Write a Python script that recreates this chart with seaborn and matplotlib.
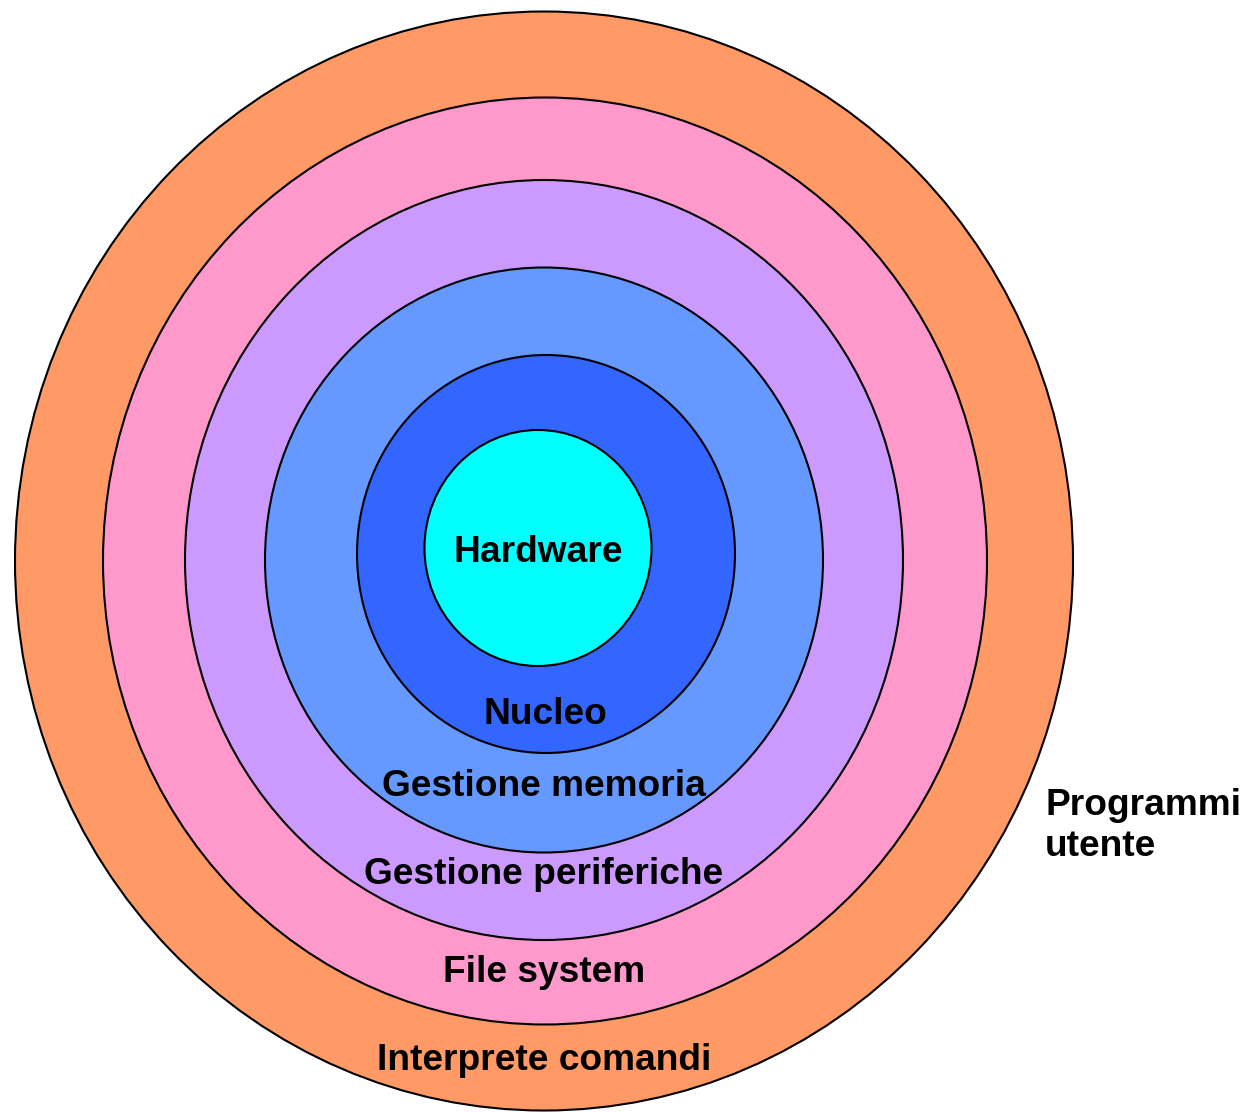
import matplotlib
matplotlib.use("Agg")
import matplotlib.pyplot as plt
from matplotlib.patches import Ellipse
import seaborn as sns

# livelli del sistema operativo, dall'esterno verso l'interno
layers = ['Interprete comandi', 'File system', 'Gestione periferiche',
          'Gestione memoria', 'Nucleo', 'Hardware']
colors = ['#FF9966', '#FF99CC', '#CC99FF', '#6699FF', '#3366FF', '#00FFFF']
center_x = [544, 545, 544, 544, 546, 538]
center_y = [561, 561, 560, 560, 554, 548]
widths = [1058, 884, 718, 558, 378, 227]
heights = [1099, 927, 760, 585, 398, 236]

# posizioni delle etichette
label_x = [544, 544, 544, 544, 545, 538]
label_y = [1060, 973, 875, 787, 714, 552]
outer_label = 'Programmi\nutente'

sns.set_style('white')
plt.rcParams['font.family'] = ['Liberation Sans', 'DejaVu Sans']

fig = plt.figure(figsize=(12.46, 11.12), dpi=100)
ax = fig.add_axes([0, 0, 1, 1])

for cx, cy, w, h, c in zip(center_x, center_y, widths, heights, colors):
    ax.add_patch(Ellipse((cx, cy), w, h, facecolor=c, edgecolor='black', linewidth=1.5))

for name, x, y in zip(layers, label_x, label_y):
    ax.text(x, y, name, ha='center', va='center', fontsize=26.7,
            fontweight='bold', color='black')

ax.text(1045, 826, outer_label, ha='left', va='center', fontsize=26.7,
        fontweight='bold', color='black', linespacing=1.22)

ax.set_xlim(0, 1246)
ax.set_ylim(1112, 0)
ax.set_aspect('auto')
ax.axis('off')

fig.savefig('out.png', dpi=100, facecolor='white')
